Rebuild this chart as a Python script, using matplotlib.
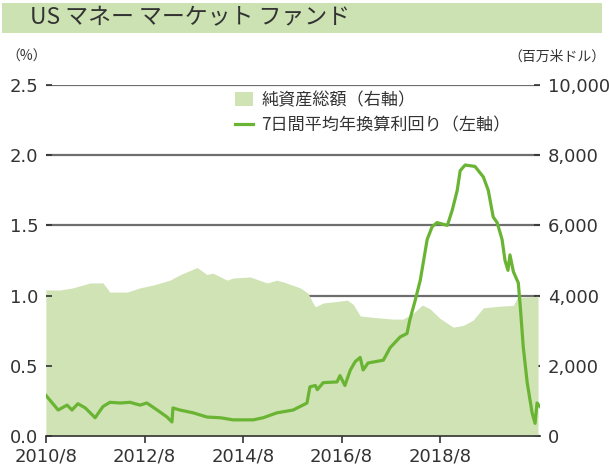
import matplotlib
matplotlib.use("Agg")
import matplotlib.pyplot as plt
from matplotlib.patches import Patch, Rectangle
from matplotlib.lines import Line2D

plt.rcParams["font.family"] = ["Noto Sans CJK JP", "DejaVu Sans"]

# 7-day average annualized yield (left axis, %), decimal years
yield_t = [2010.58, 2010.83, 2011.01, 2011.11, 2011.23, 2011.38, 2011.58, 2011.74,
           2011.88, 2012.09, 2012.29, 2012.49, 2012.63, 2012.84, 2013.04, 2013.14,
           2013.16, 2013.30, 2013.57, 2013.85, 2014.12, 2014.38, 2014.79, 2014.99,
           2015.27, 2015.60, 2015.88, 2015.94, 2016.05, 2016.09, 2016.21, 2016.49,
           2016.55, 2016.65, 2016.76, 2016.86, 2016.96, 2017.02, 2017.12, 2017.43,
           2017.57, 2017.77, 2017.91, 2017.97, 2018.08, 2018.18, 2018.32, 2018.42,
           2018.52, 2018.73, 2018.83, 2018.93, 2018.99, 2019.09, 2019.29, 2019.46,
           2019.56, 2019.66, 2019.74, 2019.84, 2019.90, 2019.96, 2020.00, 2020.07,
           2020.17, 2020.21, 2020.27, 2020.35, 2020.45, 2020.51, 2020.55, 2020.61]
yield_pct = [0.29, 0.185, 0.22, 0.185, 0.23, 0.20, 0.13, 0.21,
             0.24, 0.235, 0.24, 0.22, 0.235, 0.185, 0.135, 0.10,
             0.20, 0.185, 0.165, 0.135, 0.13, 0.115, 0.115, 0.13,
             0.165, 0.185, 0.235, 0.35, 0.36, 0.33, 0.38, 0.385,
             0.43, 0.36, 0.47, 0.53, 0.56, 0.47, 0.52, 0.54,
             0.63, 0.705, 0.73, 0.83, 0.97, 1.11, 1.40, 1.49,
             1.52, 1.50, 1.61, 1.75, 1.89, 1.93, 1.92, 1.845,
             1.75, 1.56, 1.52, 1.40, 1.25, 1.18, 1.29, 1.17,
             1.09, 0.92, 0.635, 0.38, 0.165, 0.09, 0.235, 0.21]

# total net assets (right axis, million USD)
assets_t = [2010.58, 2010.87, 2011.13, 2011.48, 2011.74, 2011.88, 2012.23, 2012.49,
            2012.76, 2013.10, 2013.30, 2013.45, 2013.65, 2013.85, 2013.97, 2014.26,
            2014.38, 2014.73, 2015.07, 2015.27, 2015.40, 2015.74, 2015.90, 2016.00,
            2016.05, 2016.21, 2016.41, 2016.70, 2016.82, 2016.96, 2017.22, 2017.63,
            2017.83, 2018.04, 2018.22, 2018.38, 2018.58, 2018.85, 2019.05, 2019.25,
            2019.46, 2019.80, 2020.07, 2020.15, 2020.57]
assets = [4160, 4160, 4220, 4360, 4360, 4100, 4100, 4220,
          4300, 4440, 4590, 4680, 4800, 4600, 4640, 4440,
          4500, 4530, 4360, 4440, 4390, 4220, 4070, 3790,
          3680, 3790, 3820, 3870, 3750, 3420, 3380, 3330,
          3330, 3500, 3730, 3620, 3350, 3100, 3150, 3300,
          3650, 3700, 3720, 3950, 3980]

x_ticks = [2010.583, 2012.583, 2014.583, 2016.583, 2018.583]
x_labels = ["2010/8", "2012/8", "2014/8", "2016/8", "2018/8"]
left_ticks = [0.0, 0.5, 1.0, 1.5, 2.0, 2.5]
right_ticks = [0, 2000, 4000, 6000, 8000, 10000]

areaColor = "#cfe3b4"
lineColor = "#6ab434"
textColor = "#333333"
gridColor = "#6e6e6e"

fig = plt.figure(figsize=(6.09, 4.71), dpi=100)
fig.patches.append(Rectangle((2 / 609, 1 - 33 / 471), 600 / 609, 30 / 471,
                             transform=fig.transFigure, facecolor="#cce2b2",
                             edgecolor="none", zorder=0))
fig.text(30 / 609, 1 - 18 / 471, "US マネー マーケット ファンド", fontsize=16.5,
         color=textColor, va="center", ha="left")

ax = fig.add_axes([46 / 609, 35 / 471, 494 / 609, 351 / 471])
ax2 = ax.twinx()
ax.set_zorder(2)
ax2.set_zorder(1)
ax.patch.set_visible(False)

ax2.fill_between(assets_t, assets, 0, color=areaColor, linewidth=0, zorder=1)
ax2.set_axisbelow(True)
ax2.yaxis.grid(True, color=gridColor, linewidth=1.6)
ax2.set_ylim(0, 10000)
ax2.set_yticks(right_ticks)
ax2.set_yticklabels([f"{v:,}" for v in right_ticks], family="DejaVu Sans",
                    fontsize=13, color=textColor)
ax2.tick_params(axis="y", direction="in", length=4.5, width=1.2, pad=5.5,
                color="#333333")

ax.plot(yield_t, yield_pct, color=lineColor, linewidth=2.3, solid_joinstyle="round")
ax.set_xlim(2010.583, 2020.61)
ax.set_ylim(0, 2.5)
ax.set_yticks(left_ticks)
ax.set_yticklabels([f"{v:.1f}" for v in left_ticks], family="DejaVu Sans",
                   fontsize=13, color=textColor)
ax.set_xticks(x_ticks)
ax.set_xticklabels(x_labels, family="DejaVu Sans", fontsize=13, color=textColor)
ax.tick_params(axis="y", direction="in", length=4.5, width=1.2, pad=5.5,
               color="#333333")
ax.tick_params(axis="x", direction="out", length=5, width=1.2, pad=3.5,
               color="#333333")

for a in (ax, ax2):
    for side in ("top", "left", "right", "bottom"):
        a.spines[side].set_visible(False)
ax.spines["bottom"].set_visible(True)
ax.spines["bottom"].set_linewidth(1.2)
ax.spines["bottom"].set_color("#333333")

fig.text(6 / 609, 1 - 57 / 471, "（%）", fontsize=10, color=textColor,
         va="center", ha="left")
fig.text(606 / 609, 1 - 57 / 471, "（百万米ドル）", fontsize=10, color=textColor,
         va="center", ha="right")

handles = [Patch(facecolor=areaColor, edgecolor="none"),
           Line2D([], [], color=lineColor, linewidth=2.3)]
labels = ["純資産総額（右軸）", "7日間平均年換算利回り（左軸）"]
ax.legend(handles, labels, loc="upper left", bbox_to_anchor=(235 / 609, 1 - 91 / 471),
          bbox_transform=fig.transFigure, frameon=False, fontsize=12.3,
          handlelength=1.05, handleheight=0.9, handletextpad=0.5,
          labelspacing=0.45, borderpad=0, borderaxespad=0, labelcolor=textColor)

fig.savefig("out.png", dpi=100)
